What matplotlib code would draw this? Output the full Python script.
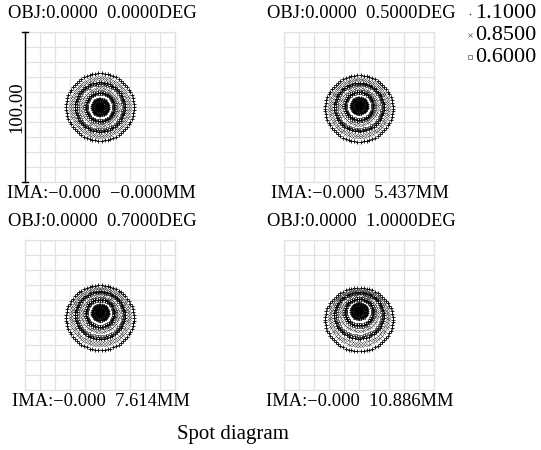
import matplotlib.pyplot as plt
import numpy as np

plt.rcParams['font.family'] = ['Liberation Serif', 'DejaVu Serif']

# field labels
obj_labels = ['OBJ:0.0000  0.0000DEG', 'OBJ:0.0000  0.5000DEG',
              'OBJ:0.0000  0.7000DEG', 'OBJ:0.0000  1.0000DEG']
ima_labels = ['IMA:\u22120.000  \u22120.000MM', 'IMA:\u22120.000  5.437MM',
              'IMA:\u22120.000  7.614MM', 'IMA:\u22120.000  10.886MM']

# wavelengths (um) and their markers
wavelengths = ['1.1000', '0.8500', '0.6000']
markers = ['+', 'x', 's']
marker_sizes = [2.6, 1.9, 1.5]
marker_ew = [0.6, 0.4, 0.4]
marker_col = ['black', '#555555', 'black']

# ring radii of the spots (um), per wavelength
rings_110 = [22.5, 16.5, 9.5, 5.2, 4.0, 2.5, 1.2]
rings_085 = [20.0, 18.5, 12.5, 4.5, 3.5, 1.8, 0.6]
rings_060 = [16.0, 15.0, 10.5, 8.8, 5.6, 4.8, 3.0, 2.2, 1.0, 0.0]
ring_sets = [rings_110, rings_085, rings_060]

# coma-like shift of the ring centres per field (um)
field_coma = [0.0, 1.0, 1.8, 3.0]
# slight squash of the rings per field (y/x)
field_squash = [1.0, 0.98, 0.96, 0.94]

box = 100.0  # um, scale bar

fig = plt.figure(figsize=(5.41, 4.50), dpi=100)
W, H = 541.0, 450.0
boxes = [(25, 32), (284, 32), (25, 240), (284, 240)]

for k in range(4):
    x0, y0 = boxes[k]
    ax = fig.add_axes([x0 / W, 1 - (y0 + 150) / H, 150 / W, 150 / H])
    ax.set_xlim(-box / 2, box / 2)
    ax.set_ylim(-box / 2, box / 2)
    ax.set_xticks(np.linspace(-50, 50, 11))
    ax.set_yticks(np.linspace(-50, 50, 11))
    ax.grid(True, color='#e2e2e2', lw=0.9)
    ax.tick_params(length=0, labelbottom=False, labelleft=False)
    for s in ax.spines.values():
        s.set_color('#e2e2e2')
        s.set_linewidth(0.9)
    ax.set_axisbelow(True)

    rmax = max(rings_110)
    for w in range(3):
        for r in ring_sets[w]:
            n = int(2.6 * r) + 12
            t = np.linspace(0, 2 * np.pi, n, endpoint=False)
            dy = field_coma[k] * (0.5 - (r / rmax) ** 2) * 2
            xs = r * np.cos(t)
            ys = r * field_squash[k] * np.sin(t) + dy
            ax.plot(xs, ys, ls='none', marker=markers[w], ms=marker_sizes[w],
                    mew=marker_ew[w], mfc='none', mec=marker_col[w])
    ax.text(0.5 + 2 / 150, 1.0 + 18 / 150, obj_labels[k],
            transform=ax.transAxes, ha='center', va='center', fontsize=13.3)
    ax.text(0.5 + 1 / 150, -11 / 150, ima_labels[k], transform=ax.transAxes,
            ha='center', va='center', fontsize=13.3)

    if k == 0:
        # scale bar on the left
        ax.plot([0, 0], [0, 1], transform=ax.transAxes, color='black',
                lw=1.0, clip_on=False, zorder=5)
        for yy in (0, 1):
            ax.plot([-3 / 150, 3 / 150], [yy, yy], transform=ax.transAxes,
                    color='black', lw=1.0, clip_on=False, zorder=5)
        ax.text(-8 / 150, 0.5, '%.2f' % box, transform=ax.transAxes,
                rotation=90, ha='center', va='center', fontsize=13.3)

# legend of wavelengths
leg_y = [14, 35, 57]
leg_ms = [2.0, 2.4, 2.6]
for w in range(3):
    fig.lines.append(plt.Line2D([470 / W], [1 - leg_y[w] / H], ls='none',
                                marker=markers[w], ms=leg_ms[w],
                                mew=0.5, mfc='none', mec='#555555',
                                transform=fig.transFigure, figure=fig))
    fig.text(475 / W, 1 - leg_y[w] / H, wavelengths[w], ha='left',
             va='center', fontsize=16)

fig.text(233 / W, 1 - 435 / H, 'Spot diagram', ha='center', va='center',
         fontsize=15)

fig.savefig('out.png', dpi=100)
